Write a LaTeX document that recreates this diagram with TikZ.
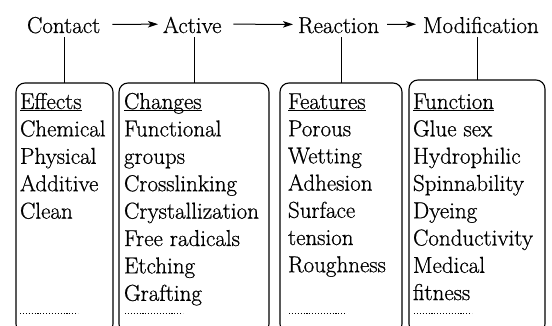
\documentclass[tikz,border=0pt]{standalone}
\usepackage{fontspec}
\setmainfont{Latin Modern Roman}[FakeBold=0.7]
\usetikzlibrary{arrows.meta}
\newcommand\headul[1]{\underline{\smash{#1}}}
\begin{document}
\begin{tikzpicture}[x=1pt,y=-1pt,
  every node/.style={inner sep=0pt,outer sep=0pt,font=\fontsize{23}{27.4}\selectfont},
  title/.style={anchor=base west},
  item/.style={anchor=base west},
  panel/.style={draw,line width=1.1pt,rounded corners=9pt,anchor=north west,minimum height=250pt},
  arr/.style={line width=1pt,-{Stealth[length=10pt,width=6.5pt,inset=2.5pt]}},
  stem/.style={line width=1pt},
  dots/.style={line width=0.9pt,dash pattern=on 1.1pt off 1.8pt}]
\useasboundingbox (0,0) rectangle (552,326);
\clip (0,0) rectangle (552,326);
% titles
\node[title] (contact) at (27,33) {Contact};
\node[title] (active) at (163,33) {Active};
\node[title] (reaction) at (298,33) {Reaction};
\node[title] (modif) at (423,33) {Modification};
% arrows
\draw[arr] ([shift={(12pt,9pt)}]contact.south east) -- ([shift={(-5pt,9pt)}]active.south west);
\draw[arr] ([shift={(12pt,9pt)}]active.south east) -- ([shift={(-5pt,9pt)}]reaction.south west);
\draw[arr] ([shift={(8pt,9pt)}]reaction.south east) -- ([shift={(-7pt,9pt)}]modif.south west);
% panels
\node[panel,minimum width=97pt] (b1) at (16,83) {};
\node[panel,minimum width=150pt] (b2) at (119,83) {};
\node[panel,minimum width=122pt] (b3) at (280,83) {};
\node[panel,minimum width=136pt,minimum height=253pt] (b4) at (409,80) {};
% stems
\draw[stem] (b1.north) -- ([yshift=-4pt]b1.north |- contact.south);
\draw[stem] (b2.north) -- ([yshift=-4pt]b2.north |- active.south);
\draw[stem] (b3.north) -- ([yshift=-4pt]b3.north |- reaction.south);
\draw[stem] (b4.north) -- ([yshift=-4pt]b4.north |- modif.south);
% panel 1
\node[item] (e0) at (20,109) {\headul{Effects}};
\foreach \t [count=\i] in {Chemical,Physical,Additive,Clean}
  \node[item] (e\i) at (20,109+27.4*\i) {\t};
% panel 2
\node[item] (c0) at (124,109) {\headul{Changes}};
\foreach \t [count=\i] in {Functional,groups,Crosslinking,Crystallization,Free radicals,Etching,Grafting}
  \node[item] (c\i) at (124,109+27.4*\i) {\t};
% panel 3
\node[item] (f0) at (288,109) {\headul{Features}};
\foreach \t [count=\i] in {Porous,Wetting,Adhesion,Surface,tension,Roughness}
  \node[item] (f\i) at (288,109+27.2*\i) {\t};
% panel 4
\node[item] (g0) at (413,109) {\headul{Function}};
\foreach \t [count=\i] in {Glue sex,Hydrophilic,Spinnability,Dyeing,Conductivity,Medical,fitness}
  \node[item] (g\i) at (413,109+27.3*\i) {\t};
% dotted ends
\draw[dots] (20,313) -- (78,313);
\draw[dots] (125,313) -- (183,313);
\draw[dots] (289,313) -- (346,313);
\draw[dots] (414,313) -- (472,313);
\end{tikzpicture}
\end{document}
